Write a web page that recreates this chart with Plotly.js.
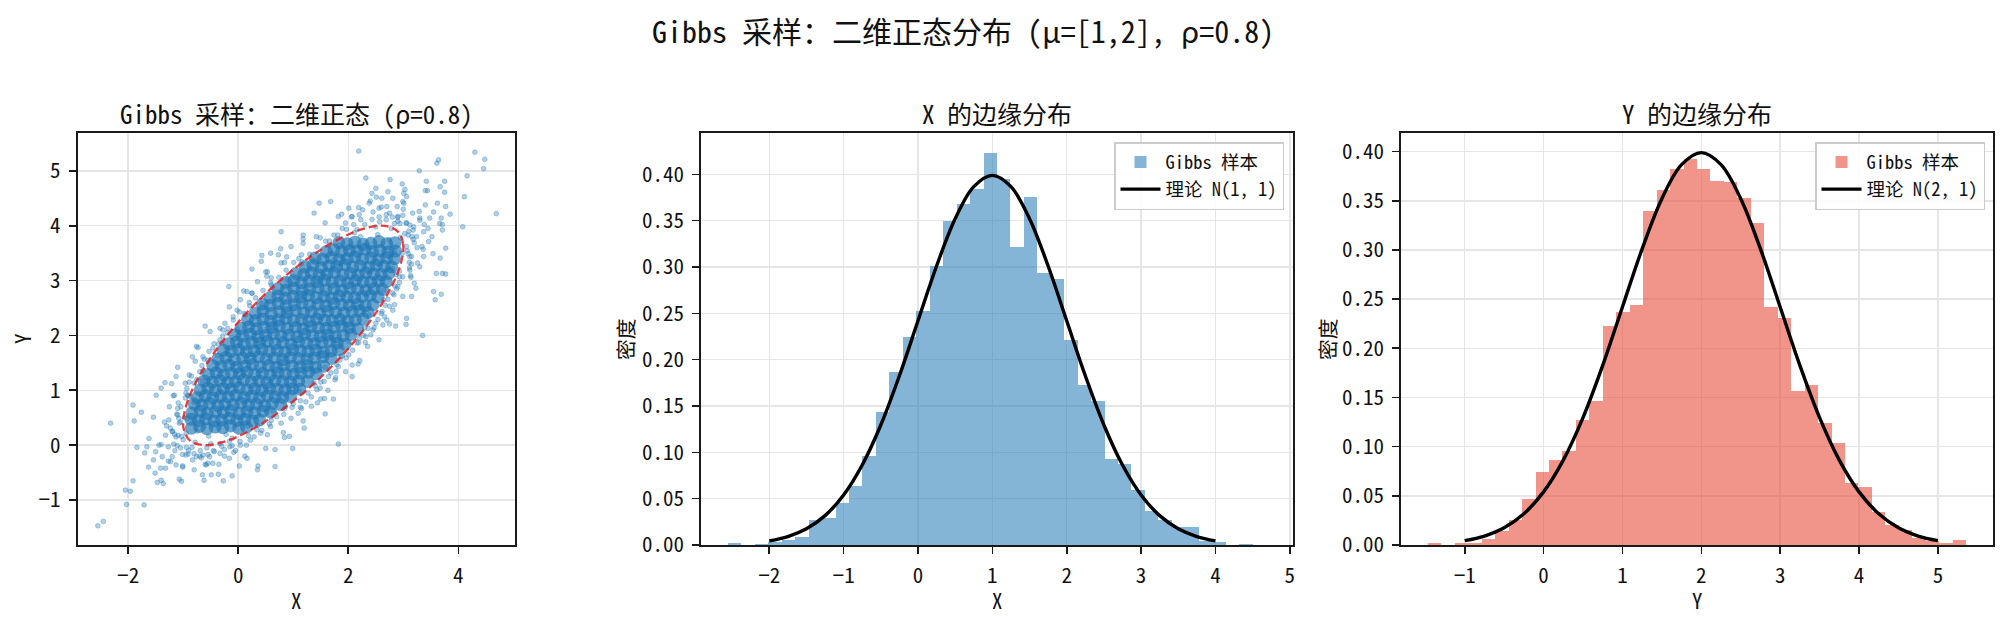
<!DOCTYPE html>
<html><head><meta charset="utf-8">
<script src="https://cdn.plot.ly/plotly-3.0.1.min.js"></script>
<style>html,body{margin:0;padding:0;background:#fff}#chart{width:2008px;height:620px}</style>
</head><body><div id="chart"></div>
<script>
// ---------- data ----------
const xBinStart = -2.556, xBinWidth = 0.1809;
const xDensity = [0.0018,0,0.0011,0.0036,0.005,0.009,0.0266,0.0295,0.0456,0.0633,0.0956,0.143,0.187,0.224,0.253,0.3015,0.350,0.368,0.3845,0.4234,0.395,0.322,0.376,0.293,0.2875,0.2217,0.1732,0.1549,0.0927,0.087,0.0589,0.0362,0.0266,0.0194,0.0194,0.004,0.0032,0,0.0011,0];
const yBinStart = -1.467, yBinWidth = 0.1706;
const yDensity = [0.002,0,0.002,0.0024,0.0064,0.0142,0.025,0.0468,0.0742,0.0864,0.0952,0.1267,0.146,0.2222,0.2365,0.2436,0.3401,0.3614,0.3818,0.392,0.3828,0.3696,0.3686,0.3533,0.3269,0.2415,0.2304,0.1562,0.1623,0.1236,0.1033,0.0627,0.0586,0.0332,0.020,0.0153,0.0075,0.004,0.002,0.0051];

const theoryZ = [-3,-2.75,-2.5,-2.25,-2,-1.75,-1.5,-1.25,-1,-0.75,-0.5,-0.25,0,0.25,0.5,0.75,1,1.25,1.5,1.75,2,2.25,2.5,2.75,3];
const theoryPdf = [0.0044,0.0091,0.0175,0.0317,0.0540,0.0863,0.1295,0.1826,0.2420,0.3011,0.3521,0.3867,0.3989,0.3867,0.3521,0.3011,0.2420,0.1826,0.1295,0.0863,0.0540,0.0317,0.0175,0.0091,0.0044];
const muX = 1, muY = 2;

const ellipseX = [2.897,2.997,2.959,2.789,2.496,2.102,1.633,1.120,0.599,0.106,-0.327,-0.669,-0.897,-0.997,-0.959,-0.789,-0.496,-0.102,0.368,0.880,1.401,1.895,2.327,2.669,2.897];
const ellipseY = [3.897,3.669,3.327,2.895,2.401,1.880,1.368,0.898,0.504,0.211,0.041,0.004,0.103,0.331,0.673,1.106,1.599,2.120,2.633,3.102,3.496,3.789,3.959,3.997,3.897];

const coreX = [
-0.85,-0.70,-0.57,-0.42,-0.28,-0.14,0.01,0.15,
-0.86,-0.72,-0.59,-0.44,-0.30,-0.16,-0.02,0.12,0.26,0.39,
-0.84,-0.69,-0.56,-0.41,-0.27,-0.13,0.02,0.16,0.30,0.45,0.59,
-0.80,-0.66,-0.52,-0.37,-0.24,-0.09,0.05,0.19,0.33,0.48,0.62,0.77,
-0.74,-0.60,-0.46,-0.32,-0.18,-0.04,0.11,0.25,0.39,0.53,0.67,0.81,0.95,
-0.69,-0.55,-0.41,-0.27,-0.13,0.02,0.16,0.30,0.43,0.57,0.71,0.85,0.99,1.12,
-0.62,-0.47,-0.33,-0.19,-0.05,0.10,0.24,0.38,0.52,0.67,0.81,0.95,1.10,1.26,
-0.54,-0.40,-0.26,-0.12,0.02,0.16,0.30,0.44,0.58,0.72,0.86,1.00,1.14,1.28,1.42,
-0.46,-0.31,-0.17,-0.03,0.12,0.26,0.40,0.55,0.69,0.83,0.98,1.12,1.26,1.41,1.55,
-0.37,-0.22,-0.07,0.08,0.22,0.37,0.51,0.66,0.81,0.95,1.10,1.25,1.39,1.54,1.69,
-0.27,-0.13,0.01,0.15,0.29,0.43,0.57,0.71,0.85,0.99,1.13,1.27,1.41,1.55,1.69,1.82,
-0.17,-0.03,0.11,0.25,0.39,0.53,0.67,0.81,0.96,1.10,1.24,1.38,1.52,1.66,1.80,1.94,
-0.06,0.08,0.22,0.36,0.50,0.64,0.78,0.92,1.07,1.21,1.35,1.49,1.63,1.77,1.91,2.05,
0.05,0.19,0.33,0.47,0.61,0.75,0.89,1.04,1.18,1.32,1.46,1.60,1.74,1.88,2.02,2.17,
0.17,0.31,0.45,0.59,0.73,0.87,1.01,1.15,1.29,1.43,1.57,1.71,1.85,1.99,2.13,2.27,
0.31,0.45,0.60,0.75,0.89,1.04,1.19,1.33,1.48,1.63,1.77,1.92,2.07,2.21,2.36,
0.44,0.58,0.73,0.87,1.02,1.16,1.30,1.45,1.59,1.74,1.88,2.02,2.17,2.31,2.45,
0.58,0.72,0.86,1.00,1.14,1.28,1.42,1.56,1.70,1.84,1.98,2.12,2.26,2.40,2.54,
0.72,0.87,1.01,1.16,1.30,1.45,1.59,1.74,1.88,2.03,2.17,2.32,2.47,2.62,
0.87,1.01,1.15,1.29,1.43,1.57,1.71,1.85,1.99,2.13,2.27,2.41,2.55,2.69,
1.05,1.19,1.33,1.47,1.61,1.75,1.90,2.04,2.18,2.32,2.46,2.60,2.74,
1.22,1.36,1.51,1.65,1.79,1.94,2.08,2.22,2.37,2.51,2.65,2.79,
1.40,1.54,1.69,1.83,1.98,2.12,2.26,2.41,2.55,2.70,2.84,
1.60,1.74,1.88,2.02,2.16,2.30,2.44,2.58,2.72,2.86,
1.83,1.98,2.12,2.27,2.41,2.56,2.70,2.85];
const coreY = [
0.31,0.34,0.30,0.33,0.32,0.35,0.31,0.33,
0.47,0.45,0.48,0.44,0.46,0.49,0.45,0.47,0.44,0.46,
0.59,0.62,0.58,0.61,0.60,0.63,0.58,0.61,0.59,0.62,0.60,
0.75,0.73,0.76,0.72,0.75,0.74,0.77,0.73,0.75,0.72,0.76,0.74,
0.87,0.90,0.86,0.89,0.88,0.91,0.87,0.89,0.86,0.90,0.88,0.87,0.89,
1.01,1.04,1.00,1.03,1.02,1.05,1.01,1.03,1.00,1.04,1.02,1.01,1.03,1.02,
1.17,1.15,1.18,1.14,1.16,1.19,1.15,1.17,1.14,1.18,1.16,1.15,1.17,1.16,
1.29,1.32,1.28,1.31,1.30,1.33,1.29,1.31,1.28,1.32,1.30,1.29,1.31,1.33,1.30,
1.45,1.43,1.46,1.42,1.44,1.47,1.43,1.45,1.42,1.46,1.44,1.43,1.45,1.42,1.44,
1.57,1.60,1.56,1.59,1.58,1.61,1.57,1.59,1.56,1.60,1.58,1.57,1.59,1.61,1.58,
1.73,1.71,1.74,1.70,1.72,1.75,1.71,1.73,1.70,1.74,1.72,1.71,1.73,1.70,1.72,1.74,
1.85,1.88,1.84,1.87,1.86,1.89,1.85,1.87,1.84,1.88,1.86,1.85,1.87,1.89,1.86,1.84,
2.01,1.99,2.02,1.98,2.00,2.03,1.99,2.01,1.98,2.02,2.00,1.99,2.01,1.98,2.00,2.02,
2.13,2.16,2.12,2.15,2.14,2.17,2.13,2.15,2.12,2.16,2.14,2.13,2.15,2.17,2.14,2.12,
2.29,2.27,2.30,2.26,2.28,2.31,2.27,2.29,2.26,2.30,2.28,2.27,2.29,2.26,2.28,2.30,
2.41,2.44,2.40,2.43,2.42,2.45,2.41,2.43,2.40,2.44,2.42,2.41,2.43,2.45,2.42,
2.57,2.55,2.58,2.54,2.56,2.59,2.55,2.57,2.54,2.58,2.56,2.55,2.57,2.54,2.56,
2.69,2.72,2.68,2.71,2.70,2.73,2.69,2.71,2.68,2.72,2.70,2.69,2.71,2.73,2.70,
2.85,2.83,2.86,2.82,2.84,2.87,2.83,2.85,2.82,2.86,2.84,2.83,2.85,2.84,
2.97,3.00,2.96,2.99,2.98,3.01,2.97,2.99,2.96,3.00,2.98,2.97,2.99,2.98,
3.13,3.11,3.14,3.10,3.12,3.15,3.11,3.13,3.10,3.14,3.12,3.11,3.13,
3.25,3.28,3.24,3.27,3.26,3.29,3.25,3.27,3.24,3.28,3.26,3.25,
3.41,3.39,3.42,3.38,3.40,3.43,3.39,3.41,3.38,3.42,3.40,
3.53,3.56,3.52,3.55,3.54,3.57,3.53,3.55,3.52,3.54,
3.69,3.67,3.70,3.66,3.68,3.71,3.67,3.69];

const outerPoints = [
[-2.55,-1.47],[-2.45,-1.39],[-2.32,0.40],[-2.03,-1.08],[-2.05,-0.82],[-1.96,-0.84],[-1.91,-0.65],[-1.91,0.73],[-1.89,0.44],[-1.76,0.60],
[-1.71,-1.09],[-1.84,-0.04],[-1.70,-0.14],[-1.62,0.12],[-1.51,-0.51],[-1.47,-0.68],[-1.36,-0.70],[-1.41,-0.42],[-1.49,0.91],[-1.40,1.04],
[-1.33,1.14],[-1.18,0.90],[-1.13,1.25],[-1.10,1.42],[-0.89,1.28],[-0.96,1.13],[-0.83,1.61],[-0.73,1.78],[-0.60,2.17],[-0.51,2.07],
[-0.28,2.10],[-0.17,2.89],[-0.09,2.34],[0.10,2.81],[0.16,2.80],[0.25,3.21],[0.43,3.46],[0.42,3.35],[0.52,3.08],[0.59,3.50],
[0.73,3.47],[0.78,3.89],[0.77,3.58],[0.88,3.43],[1.18,3.83],[1.38,4.23],[1.47,4.41],[1.68,4.44],[2.01,4.32],[2.19,5.36],
[2.19,4.33],[2.32,4.87],[2.50,4.68],[2.43,4.59],[2.61,4.50],[2.76,4.84],[2.72,4.62],[2.81,4.50],[2.89,4.35],[2.98,4.76],
[3.01,4.59],[3.06,4.53],[2.99,4.44],[3.17,4.23],[3.29,5.00],[3.40,4.38],[3.42,4.81],[3.44,4.64],[3.30,4.14],[3.34,3.62],
[3.48,4.14],[3.52,3.80],[3.60,3.13],[3.55,2.80],[3.58,2.65],[3.61,5.14],[3.64,5.20],[3.67,3.41],[3.71,4.02],[3.71,3.92],
[3.69,4.14],[3.67,4.71],[3.71,3.13],[3.69,2.75],[3.75,4.81],[3.75,4.61],[3.77,4.35],[3.77,3.59],[3.77,3.12],[3.85,4.21],
[4.08,3.98],[4.11,4.53],[4.16,4.91],[4.30,5.34],[4.46,5.04],[4.48,5.21],[4.69,4.22],[3.35,2.00],[3.15,2.71],[3.14,3.06],
[2.99,2.71],[3.06,2.31],[3.05,2.20],[2.86,2.17],[2.84,2.56],[2.70,2.28],[2.63,2.19],[2.56,1.92],[2.41,2.01],[2.35,1.80],
[2.21,1.54],[2.07,1.25],[2.07,1.46],[1.95,1.34],[1.78,1.34],[1.76,1.19],[1.73,0.84],[1.82,0.02],[1.63,1.00],[1.57,0.85],
[1.58,0.57],[1.44,0.77],[1.33,0.71],[1.23,0.79],[1.18,0.44],[1.20,0.31],[1.09,0.58],[0.99,-0.06],[0.93,0.16],[0.84,0.14],
[0.67,-0.08],[0.67,-0.39],[0.50,-0.06],[0.36,-0.38],[0.35,-0.45],[0.16,-0.24],[0.02,-0.38],[-0.11,-0.56],[-0.16,-0.24],[-0.27,-0.65],
[-0.36,-0.53],[-0.46,-0.33],[-0.62,-0.64],[-0.65,-0.54],[-0.55,-0.33],[-0.83,-0.27],[-1.01,-0.40],[-1.07,-0.62],[-1.23,-0.30],[-1.27,-0.03],
[-1.20,-0.21],[-1.13,0.15],[-1.07,0.40],[-1.26,0.46],[-1.32,0.18],[-1.44,0.00],[-1.50,-0.12],[-1.38,-0.21],[-1.54,-0.27],[-1.32,-0.42],
[-1.13,-0.36],[-0.95,-0.18],[-0.76,-0.21],[-0.64,-0.18],[-0.52,-0.21],[-0.33,-0.15],
[-0.92,0.49],[-1.04,0.70],[-0.92,0.91],[-0.80,1.13],[-0.64,1.61],[-0.46,1.77],[-0.33,1.92],[-0.24,2.22],[-0.02,2.46],[0.04,2.65],
[0.25,2.77],[0.35,2.98],[0.53,3.16],[0.78,3.32],[0.96,3.62],[1.18,3.68],[1.42,3.80],[1.58,4.05],[1.82,4.17],[1.89,3.95],
[2.07,4.17],[2.26,4.29],[2.38,4.41],[2.56,4.32],[2.75,4.23],[2.90,4.08],[3.06,4.05],[3.18,3.92],[3.24,3.80],[3.37,3.89],
[3.46,3.71],[3.37,3.44],[3.26,3.32],[3.15,3.44],[3.06,3.62],[3.12,3.19],[2.99,3.07],[2.90,2.89],[2.81,2.77],[2.75,2.53],
[2.66,2.34],[2.50,2.22],[2.32,1.98],[2.16,1.86],[2.01,1.65],[1.82,1.43],[1.64,1.25],[1.49,1.04],[1.33,0.88],[1.15,0.67],
[0.96,0.49],[0.78,0.40],[0.59,0.34],[0.41,0.22],[0.22,0.09],[0.04,0.00],[-0.15,-0.03],[-0.33,0.03],
[2.745,3.745],[2.837,3.535],[2.802,3.221],[2.646,2.823],[2.376,2.369],[2.014,1.890],[1.582,1.419],[1.110,0.986],[0.631,0.624],[0.178,0.354],
[-0.221,0.198],[-0.535,0.164],[-0.745,0.255],[-0.837,0.465],[-0.802,0.779],[-0.646,1.177],[-0.376,1.631],[-0.014,2.110],[0.418,2.582],[0.890,3.014],
[1.369,3.376],[1.823,3.646],[2.221,3.802],[2.535,3.837],
[3.049,4.049],[3.157,3.802],[3.116,3.433],[2.932,2.967],[2.616,2.433],[2.190,1.870],[1.684,1.317],[1.130,0.810],[0.567,0.384],[0.034,0.068],
[-0.433,-0.116],[-0.802,-0.156],[-1.049,-0.049],[-1.157,0.197],[-1.116,0.567],[-0.932,1.034],[-0.616,1.567],[-0.190,2.130],[0.317,2.684],[0.870,3.190],
[1.433,3.616],[1.967,3.932],[2.433,4.116],[2.802,4.157],
[2.947,3.783],[2.978,3.498],[2.874,3.111],[2.643,2.648],[2.299,2.141],[1.868,1.624],[1.377,1.133],[0.860,0.701],[0.353,0.358],[-0.111,0.126],
[-0.498,0.023],[-0.783,0.054],[-0.947,0.217],[-0.978,0.502],[-0.874,0.890],[-0.643,1.353],[-0.299,1.860],[0.133,2.377],[0.624,2.868],[1.141,3.299],
[1.648,3.643],[2.111,3.874],[2.498,3.978],[2.783,3.947],
[3.025,3.854],[3.07,3.54],[2.93,3.17],[2.72,2.66],[2.36,2.13],[1.89,1.62],[1.40,1.08],[0.84,0.66],[0.34,0.28],[-0.16,0.07],
[-0.57,-0.05],[-0.84,-0.04],[-1.03,0.16],[-1.05,0.42],[-0.96,0.86],[-0.70,1.34],[-0.36,1.84],[0.11,2.40],[0.60,2.92],[1.16,3.34],
[1.66,3.72],[2.16,3.93],[2.57,4.07],[2.84,4.04],
[3.19,3.98],[3.20,3.69],[3.11,3.23],[2.83,2.74],[2.47,2.14],[1.96,1.59],[1.43,1.01],[0.83,0.56],[0.29,0.15],[-0.25,-0.08],
[-0.67,-0.23],[-1.01,-0.17],[-1.17,0.02],[-1.23,0.31],[-1.09,0.77],[-0.85,1.26],[-0.44,1.85],[0.02,2.43],[0.59,2.96],[1.15,3.47],
[1.74,3.83],[2.23,4.11],[2.69,4.20],[2.99,4.19],
[3.29,4.26],[3.38,4.02],[3.36,3.57],[3.13,3.09],[2.81,2.46],[2.31,1.87],[1.77,1.23],[1.13,0.69],[0.53,0.19],[-0.08,-0.13],
[-0.58,-0.36],[-1.01,-0.38],[-1.27,-0.29],[-1.40,0.01],[-1.34,0.42],[-1.16,0.91],[-0.78,1.53],[-0.33,2.13],[0.25,2.77],[0.84,3.33],
[1.49,3.78],[2.06,4.16],[2.60,4.34],[3.01,4.41],
[3.62,4.41],[3.66,4.04],[3.54,3.49],[3.23,2.86],[2.75,2.21],[2.18,1.48],[1.50,0.84],[0.82,0.23],[0.12,-0.20],[-0.49,-0.54],
[-1.03,-0.66],[-1.40,-0.64],[-1.63,-0.40],[-1.66,-0.03],[-1.54,0.51],[-1.21,1.12],[-0.76,1.80],[-0.16,2.52],[0.50,3.16],[1.18,3.76],
[1.88,4.21],[2.51,4.52],[3.03,4.66],[3.40,4.64],
[-0.90,-0.10],[-0.70,-0.20],[-1.00,0.10],[-1.20,0.25],[-0.45,-0.10],[-0.25,-0.20],[-0.05,-0.10],[-1.10,0.55],[-1.25,0.70],[-0.60,-0.35],
[-0.80,-0.45],[-1.15,-0.10],[-0.35,-0.35],[0.15,0.00],[-1.30,0.35],
[2.90,4.15],[3.10,3.90],[3.25,3.60],[3.00,4.30],[2.70,4.35],[2.45,4.25],[3.30,4.10],[3.45,3.95],[3.15,3.30],[3.30,3.25],
[2.20,4.20],[2.40,4.45],[3.55,4.25],[3.20,2.95],[1.95,4.05],
[-0.55,1.55],[-0.20,2.05],[0.20,2.60],[0.60,3.05],[1.10,3.40],[-0.75,1.20],[-0.90,0.90],[2.60,2.40],[2.20,1.95],[1.85,1.55],
[1.50,1.15],[1.00,0.75],[0.60,0.45],[2.85,2.90],[2.45,2.10],
[3.12,4.01],[3.18,3.75],[3.11,3.33],[2.88,2.85],[2.54,2.29],[2.08,1.73],[1.56,1.16],[0.98,0.69],[0.43,0.27],[-0.11,-0.01],
[-0.55,-0.17],[-0.91,-0.16],[-1.11,-0.01],[-1.19,0.25],[-1.10,0.67],[-0.89,1.15],[-0.53,1.71],[-0.09,2.28],[0.45,2.82],[1.01,3.33],
[1.59,3.72],[2.10,4.02],[2.56,4.16],[2.90,4.17],
[3.09,3.83],[3.09,3.49],[2.93,3.07],[2.67,2.55],[2.28,2.00],[1.79,1.47],[1.27,0.95],[0.70,0.52],[0.19,0.17],[-0.30,-0.02],
[-0.69,-0.10],[-0.94,-0.04],[-1.09,0.18],[-1.08,0.49],[-0.95,0.95],[-0.66,1.45],[-0.28,1.99],[0.21,2.54],[0.74,3.06],[1.30,3.48],
[1.81,3.83],[2.30,4.02],[2.69,4.11],[2.94,4.04]];

// ---------- helpers ----------
const FONT = "'Noto Sans Mono CJK SC','Noto Sans CJK SC',sans-serif";
const binCenters = (start, w, n) => Array.from({length:n}, (_, k) => start + (k + 0.5) * w);
const W = 2008, H = 620;
const px = v => v / W, py = v => 1 - v / H;

function axis(extra) {
  return Object.assign({
    showline:true, mirror:true, linecolor:'#1a1a1a', linewidth:1.7,
    ticks:'outside', ticklen:7, tickwidth:1.6, tickcolor:'#1a1a1a',
    showgrid:true, gridcolor:'#e6e6e6', gridwidth:1.5, zeroline:false,
    tickfont:{family:FONT, size:21, color:'#111'}, ticklabelstandoff:4,
    fixedrange:true
  }, extra);
}

const traces = [
  {type:'scatter', mode:'markers', x:coreX, y:coreY, xaxis:'x', yaxis:'y', showlegend:false, hoverinfo:'skip',
   marker:{size:13, color:'rgba(31,119,180,0.66)', line:{width:0}}},
  {type:'scatter', mode:'markers', x:outerPoints.map(p=>p[0]), y:outerPoints.map(p=>p[1]), xaxis:'x', yaxis:'y', showlegend:false, hoverinfo:'skip',
   marker:{size:4.8, color:'rgba(31,119,180,0.35)', line:{width:0.9, color:'rgba(31,119,180,0.35)'}}},
  {type:'scatter', mode:'lines', x:ellipseX, y:ellipseY, xaxis:'x', yaxis:'y', showlegend:false, hoverinfo:'skip',
   line:{color:'rgba(232,28,32,0.85)', width:2.3, dash:'8px,4px', shape:'spline', smoothing:1}},

  {type:'bar', x:binCenters(xBinStart, xBinWidth, xDensity.length), y:xDensity, width:xBinWidth, xaxis:'x2', yaxis:'y2',
   name:'Gibbs 样本', legend:'legend', marker:{color:'rgba(31,119,180,0.55)', line:{width:0}}},
  {type:'scatter', mode:'lines', x:theoryZ.map(z=>z+muX), y:theoryPdf, xaxis:'x2', yaxis:'y2',
   name:'理论 N(1, 1)', legend:'legend', line:{color:'#000', width:3.4, shape:'spline'}},

  {type:'bar', x:binCenters(yBinStart, yBinWidth, yDensity.length), y:yDensity, width:yBinWidth, xaxis:'x3', yaxis:'y3',
   name:'Gibbs 样本', legend:'legend2', marker:{color:'rgba(231,76,60,0.6)', line:{width:0}}},
  {type:'scatter', mode:'lines', x:theoryZ.map(z=>z+muY), y:theoryPdf, xaxis:'x3', yaxis:'y3',
   name:'理论 N(2, 1)', legend:'legend2', line:{color:'#000', width:3.4, shape:'spline'}}
];

const yDom = [py(545), py(133)];
const legendStyle = {font:{family:FONT, size:18.5, color:'#111'}, bgcolor:'rgba(255,255,255,0.85)',
  bordercolor:'#cccccc', borderwidth:1.5, xanchor:'right', yanchor:'top', xref:'paper', yref:'paper',
  tracegroupgap:0, itemwidth:40};

const annText = (text, x, y, size, extra) => Object.assign({text, x, y, xref:'paper', yref:'paper',
  showarrow:false, xanchor:'center', yanchor:'middle', borderpad:0, font:{family:FONT, size, color:'#111'}}, extra || {});

const layout = {
  width:W, height:H, margin:{l:0, r:0, t:0, b:0}, paper_bgcolor:'#fff', plot_bgcolor:'#fff',
  bargap:0, barmode:'overlay', hovermode:false,
  xaxis: axis({domain:[px(77.5), px(515)], range:[-2.92, 5.03], tickvals:[-2,0,2,4], ticktext:['\u22122','0','2','4'], anchor:'y'}),
  yaxis: axis({domain:yDom, range:[-1.82, 5.69], tickvals:[-1,0,1,2,3,4,5], ticktext:['\u22121','0','1','2','3','4','5'], anchor:'x'}),
  xaxis2: axis({domain:[px(701), px(1293)], range:[-2.918, 5.043], tickvals:[-2,-1,0,1,2,3,4,5], ticktext:['\u22122','\u22121','0','1','2','3','4','5'], anchor:'y2'}),
  yaxis2: axis({domain:yDom, range:[0, 0.4446], tickvals:[0,0.05,0.1,0.15,0.2,0.25,0.3,0.35,0.4], tickformat:'.2f', anchor:'x2'}),
  xaxis3: axis({domain:[px(1401), px(1993)], range:[-1.808, 5.699], tickvals:[-1,0,1,2,3,4,5], ticktext:['\u22121','0','1','2','3','4','5'], anchor:'y3'}),
  yaxis3: axis({domain:yDom, range:[0, 0.4189], tickvals:[0,0.05,0.1,0.15,0.2,0.25,0.3,0.35,0.4], tickformat:'.2f', anchor:'x3'}),
  legend: Object.assign({x:px(1284), y:py(142)}, legendStyle),
  legend2: Object.assign({x:px(1985), y:py(142)}, legendStyle),
  annotations: [
    annText('Gibbs 采样：二维正态分布 (μ=[1,2], ρ=0.8)', px(963), py(30), 30),
    annText('Gibbs 采样：二维正态 (ρ=0.8)', px(296), py(113), 25),
    annText('X 的边缘分布', px(997), py(113), 25),
    annText('Y 的边缘分布', px(1697), py(113), 25),
    annText('X', px(296), py(600), 20.8),
    annText('X', px(997), py(600), 20.8),
    annText('Y', px(1697), py(600), 20.8),
    annText('Y', px(22), py(339), 20.8, {textangle:-90}),
    annText('密度', px(625), py(339), 20.8, {textangle:-90}),
    annText('密度', px(1327), py(339), 20.8, {textangle:-90})
  ]
};

Plotly.newPlot('chart', traces, layout, {displayModeBar:false, staticPlot:true});
</script></body></html>
